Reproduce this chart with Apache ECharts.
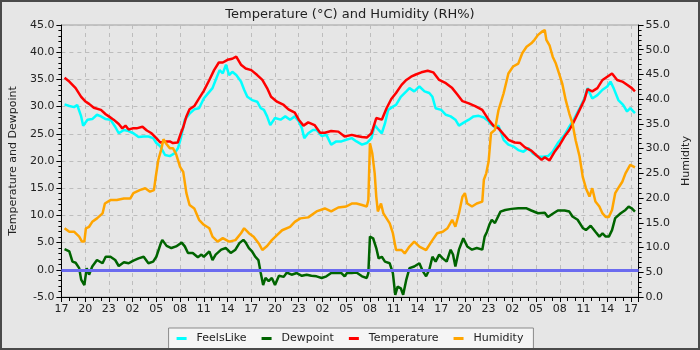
<!DOCTYPE html>
<html>
<head>
<meta charset="utf-8">
<script src="https://cdn.jsdelivr.net/npm/echarts@6/dist/echarts.min.js"></script>
<style>
  html, body { margin: 0; padding: 0; background: #e6e6e6; }
  #chart { width: 700px; height: 350px; }
</style>
</head>
<body>
<div id="chart"></div>
<script>
// Hours since 17:00 on the first day, paired with the reading.
const startHour = 17;
const hourTicks = 3;

const feelsLike = [
  [0.4,30.4],[1,30.1],[1.6,29.9],[2,30.3],[2.5,28.2],[2.75,26.5],[3.3,27.6],[3.9,27.7],[4.5,28.5],[5,28.2],
  [5.6,27.7],[6.2,27.6],[6.8,26.3],[7.25,25.1],[7.9,25.7],[8.5,25.5],[9.1,25.1],[9.75,24.4],[10.4,24.5],[11,24.5],
  [11.6,24.2],[12,23.3],[12.5,22.7],[13.1,21.1],[13.7,20.9],[14.3,21.4],[14.75,22.4],[15.1,24.2],[15.6,27.6],[16.2,28.7],
  [16.8,29.5],[17.4,29.7],[18,31.5],[18.4,32.2],[19.1,33.4],[19.5,34.9],[20,36.7],[20.4,36.1],[20.8,37.7],[21.2,35.8],
  [21.6,36.4],[22.1,35.8],[22.7,34.6],[23.1,33.1],[23.5,31.8],[24.1,31.2],[24.75,30.9],[25.2,29.7],[25.6,29.4],[26,28.2],
  [26.4,26.6],[27,27.9],[27.7,27.6],[28.3,28.2],[28.9,27.6],[29.5,28.2],[30,27.3],[30.4,26.0],[30.7,24.2],[31.2,25.1],
  [31.8,25.7],[32.25,25.7],[32.9,24.6],[33.5,24.8],[34.1,23.0],[34.75,23.6],[35.4,23.6],[36,23.9],[36.7,24.2],[37.3,23.6],
  [38,23.0],[38.6,23.3],[39.2,24.2],[39.6,26.6],[40.1,25.7],[40.5,25.1],[40.9,26.9],[41.3,29.4],[41.9,30.0],[42.3,30.3],
  [42.9,31.8],[43.6,32.8],[44,33.4],[44.6,32.8],[45.25,33.7],[45.9,32.8],[46.5,32.5],[46.9,31.8],[47.3,29.7],[48,29.4],
  [48.6,28.5],[49.2,28.2],[49.8,27.6],[50.25,26.5],[50.9,27.1],[51.5,27.6],[52.1,28.2],[52.75,28.3],[53.4,28.0],[54,27.3],
  [54.2,26.9],[54.8,26.2],[55.25,26.5],[55.9,23.9],[56.5,23.0],[57.1,22.7],[57.75,22.0],[58.4,21.7],[59,22.4],[59.6,21.4],
  [60.25,20.8],[60.9,20.8],[61.5,20.9],[62.1,21.7],[62.75,23.3],[63.6,24.8],[64.2,26.3],[64.8,27.7],[65.5,29.7],[66.1,31.5],
  [66.5,33.4],[67.1,31.5],[67.75,32.1],[68.4,33.1],[69,33.7],[69.4,34.6],[69.8,33.4],[70.4,31.2],[71,30.3],[71.5,29.1],
  [71.9,29.7],[72.5,28.8]
];

const dewpoint = [
  [0.4,3.8],[1,3.4],[1.4,1.5],[1.8,1.3],[2.25,0.3],[2.5,-1.8],[2.9,-2.8],[3.2,0.3],[3.5,-0.9],[3.9,0.6],
  [4.5,1.8],[5.2,1.2],[5.6,2.4],[6.2,2.4],[6.8,1.8],[7.25,0.7],[7.9,1.4],[8.5,1.2],[9.1,1.7],[9.75,2.1],
  [10.4,2.4],[11,1.2],[11.6,1.5],[12,2.4],[12.5,4.6],[12.75,5.5],[13.3,4.4],[13.9,4.0],[14.5,4.3],[15.2,5.0],
  [15.6,4.3],[16,3.1],[16.6,3.1],[17.25,2.3],[17.7,2.8],[18,2.4],[18.7,3.4],[19.1,1.8],[19.5,2.8],[20.2,3.7],
  [20.8,4.0],[21.4,3.1],[22,3.7],[22.5,4.9],[23,5.5],[23.3,5.0],[23.7,4.0],[24.1,3.4],[24.5,2.4],[24.9,1.8],
  [25.2,-0.6],[25.5,-2.8],[25.8,-1.5],[26.2,-2.1],[26.6,-1.5],[27,-2.8],[27.5,-1.1],[28.1,-1.3],[28.5,-0.5],[29.1,-0.9],
  [29.75,-0.6],[30.4,-1.1],[31,-0.9],[31.6,-1.1],[32.25,-1.2],[32.9,-1.5],[33.5,-1.2],[34.1,-0.6],[34.75,-0.6],[35.4,-0.6],
  [35.8,-1.2],[36.1,-0.6],[36.7,-0.6],[37.3,-0.5],[38,-1.2],[38.6,-1.5],[38.8,-0.6],[39,6.1],[39.4,5.8],[39.8,4.0],
  [40.1,2.1],[40.5,2.4],[40.9,1.5],[41.5,1.2],[41.9,-0.6],[42.2,-4.6],[42.5,-3.1],[42.9,-3.4],[43.2,-4.6],[43.6,-1.8],
  [44,0.3],[44.6,0.6],[45.25,1.2],[45.7,-0.3],[46.1,-1.2],[46.5,0.0],[46.9,2.4],[47.3,1.5],[47.75,2.8],[48.2,2.1],
  [48.7,1.5],[49.2,3.7],[49.5,2.8],[49.8,0.6],[50.25,3.7],[50.8,5.8],[51.3,4.3],[51.9,3.7],[52.5,4.0],[53.2,3.7],
  [53.5,6.1],[53.8,7.0],[54.1,8.3],[54.4,9.2],[54.8,8.6],[55.5,10.7],[56.1,11.0],[56.9,11.2],[57.75,11.3],[58.8,11.3],
  [59.4,10.9],[60.25,10.4],[61.1,10.5],[61.5,9.7],[62.1,10.3],[62.75,10.9],[63.6,10.9],[64.2,10.7],[64.6,9.8],[65.25,9.2],
  [65.9,7.7],[66.3,7.3],[66.9,8.1],[67.5,7.0],[68,6.1],[68.4,6.7],[68.8,6.1],[69.2,6.1],[69.6,7.3],[70,9.5],
  [70.7,10.4],[71.3,11.0],[71.7,11.6],[72.1,11.3],[72.5,10.7]
];

const temperature = [
  [0.4,35.3],[1,34.6],[1.8,33.4],[2.5,31.8],[3,31.0],[3.5,30.5],[4.1,29.8],[5,29.4],[5.6,28.6],[6,28.2],
  [6.6,27.6],[7.25,26.8],[7.7,26.0],[8.1,26.5],[8.5,25.8],[9,26.0],[9.5,26.0],[10.25,26.3],[10.8,25.6],[11.4,25.1],
  [12,24.2],[12.5,23.4],[13.1,23.6],[13.7,23.6],[14.1,23.3],[14.7,23.4],[15.1,25.1],[15.4,26.2],[15.8,28.2],[16.2,29.5],
  [16.8,30.1],[17.4,31.5],[18,32.9],[18.7,34.9],[19.3,36.7],[19.9,38.1],[20.4,38.1],[21,38.6],[21.6,38.8],[22.1,39.2],
  [22.7,37.7],[23.3,37.0],[24,36.7],[24.75,35.8],[25.4,34.9],[26,33.4],[26.5,31.8],[27.25,30.9],[28.1,30.3],[28.7,29.5],
  [29.5,28.9],[30,27.6],[30.6,26.5],[31.2,27.1],[32,26.6],[32.7,25.2],[33.3,25.2],[34.1,25.5],[35,25.4],[35.8,24.5],
  [36.7,24.8],[37.3,24.6],[38,24.4],[38.6,24.3],[39.2,25.1],[39.8,27.9],[40.5,27.6],[41.1,29.7],[41.7,31.4],[42.3,32.5],
  [43,34.0],[43.6,34.9],[44.2,35.5],[44.8,35.9],[45.5,36.3],[46.3,36.6],[47,36.3],[47.75,34.9],[48.6,34.3],[49.4,33.4],
  [50,32.3],[50.7,31.0],[51.5,30.6],[52.3,30.1],[53.2,29.4],[54,27.6],[54.6,26.5],[55.25,26.0],[55.9,24.9],[56.5,23.9],
  [57.3,23.4],[58,23.3],[58.6,22.5],[59.4,21.9],[60,21.1],[60.7,20.2],[61.1,20.7],[61.7,20.1],[62.3,21.6],[63,23.0],
  [63.6,24.5],[64.2,25.7],[64.8,27.3],[65.5,29.4],[66.1,31.2],[66.5,33.2],[67.1,32.8],[67.75,33.4],[68.4,34.9],[69,35.5],
  [69.6,36.1],[70.25,34.9],[70.9,34.6],[71.5,34.0],[72.1,33.4],[72.5,32.8]
];

const humidity = [
  [0.4,13.9],[1,13.2],[1.6,13.2],[2.25,12.2],[2.6,11.2],[2.9,11.2],[3.1,13.9],[3.5,14.2],[3.9,15.2],[4.5,15.9],
  [5.2,16.9],[5.5,18.9],[6.2,19.6],[7,19.6],[7.9,19.9],[8.7,19.9],[9.1,21.0],[9.9,21.6],[10.6,22.0],[11.2,21.3],
  [11.7,21.6],[11.9,24.0],[12.25,27.7],[12.6,29.7],[12.9,31.9],[13.2,31.1],[13.7,30.1],[14.1,30.1],[14.5,28.9],[15,26.3],
  [15.4,25.3],[15.8,21.0],[16.2,18.6],[16.8,17.9],[17.4,15.6],[18,14.6],[18.7,13.9],[19.1,12.2],[19.75,11.2],[20.4,11.9],
  [21.2,11.2],[22,11.5],[22.7,12.9],[23.1,13.9],[23.7,12.9],[24.3,12.2],[25,10.7],[25.4,9.5],[26,10.3],[26.6,11.5],
  [27.25,12.5],[27.9,13.5],[28.9,14.2],[29.5,15.2],[30.2,15.9],[31.2,16.1],[32.25,17.3],[33.3,17.9],[34.1,17.3],[35,18.1],
  [36,18.3],[36.7,18.9],[37.3,18.9],[38,18.6],[38.6,18.3],[38.8,19.6],[39,31.1],[39.3,29.0],[39.6,25.0],[39.8,20.3],
  [40,17.3],[40.4,18.9],[40.7,16.9],[41.1,15.9],[41.5,14.9],[41.9,12.9],[42.3,9.5],[43,9.5],[43.4,8.8],[44,10.2],
  [44.6,11.2],[45.25,10.2],[46.1,9.5],[46.9,11.5],[47.5,12.9],[48.2,13.2],[48.8,13.9],[49.4,15.6],[49.8,14.2],[50.25,16.9],
  [50.7,20.3],[51,21.0],[51.3,18.9],[51.9,18.3],[52.5,18.9],[53.2,19.3],[53.4,23.7],[53.7,25.0],[54,27.4],[54.3,33.1],
  [54.8,33.8],[55.25,37.8],[55.9,41.2],[56.5,45.2],[57.1,46.6],[57.75,47.2],[58.25,49.3],[58.8,50.6],[59.4,51.3],[59.8,52.0],
  [60.25,53.0],[60.7,53.6],[61.1,54.0],[61.3,52.0],[61.7,50.9],[62.1,48.6],[62.5,47.2],[62.9,45.2],[63.3,43.2],[63.75,39.8],
  [64.2,37.1],[64.6,35.1],[65,31.7],[65.5,28.4],[65.9,24.3],[66.3,22.0],[66.75,20.3],[67.1,22.0],[67.5,19.3],[68,18.3],
  [68.4,16.9],[68.8,16.2],[69.2,16.2],[69.6,17.6],[70,21.0],[70.5,22.3],[70.9,23.3],[71.3,25.0],[71.9,26.7],[72.5,26.2]
];

const FONT = 'DejaVu Sans';
const TEXT = '#222222';
const GRID_LINE = { show: true, lineStyle: { color: '#bdbdbd', type: [4, 4], width: 1 } };

function clockLabel(v) {
  if (Math.abs(v / hourTicks - Math.round(v / hourTicks)) > 1e-6) return '';
  const h = (startHour + Math.round(v)) % 24;
  return (h < 10 ? '0' : '') + h;
}

function lineSeries(name, data, color, yAxisIndex, extra) {
  return Object.assign({
    name: name,
    type: 'line',
    data: data,
    yAxisIndex: yAxisIndex,
    showSymbol: false,
    symbol: 'none',
    animation: false,
    lineStyle: { color: color, width: 2.5 },
    itemStyle: { color: color }
  }, extra || {});
}

const chart = echarts.init(document.getElementById('chart'), null, { renderer: 'canvas' });
chart.setOption({
  backgroundColor: '#e6e6e6',
  animation: false,
  textStyle: { fontFamily: FONT },
  title: {
    text: 'Temperature (°C) and Humidity (RH%)',
    left: 'center',
    top: 3,
    textStyle: { fontFamily: FONT, fontSize: 13, fontWeight: 'normal', color: TEXT }
  },
  graphic: [{
    type: 'rect',
    shape: { x: 1, y: 1, width: 698, height: 348 },
    style: { fill: 'none', stroke: '#4a4a4a', lineWidth: 2 },
    silent: true,
    z: 100
  }],
  grid: {
    left: 55, right: 60, top: 25, bottom: 53,
    show: true, borderColor: '#a0a0a0', borderWidth: 1, backgroundColor: 'transparent'
  },
  legend: {
    bottom: 1,
    left: 'center',
    data: ['FeelsLike', 'Dewpoint', 'Temperature', 'Humidity'],
    icon: 'rect',
    itemWidth: 10,
    itemHeight: 3,
    itemGap: 15,
    padding: [5, 10, 5, 8],
    backgroundColor: '#f5f5f5',
    borderColor: '#8a8a8a',
    borderWidth: 1,
    borderRadius: 0,
    textStyle: { fontFamily: FONT, fontSize: 11, color: TEXT, padding: [0, 0, 0, 5] }
  },
  xAxis: {
    type: 'value',
    min: 0,
    max: 72.96,
    interval: hourTicks,
    axisLine: { show: true, onZero: false, lineStyle: { color: '#000', width: 1 } },
    axisTick: { show: true, length: 5, lineStyle: { color: '#000' } },
    minorTick: { show: true, splitNumber: 3, length: 4, lineStyle: { color: '#000' } },
    axisLabel: { formatter: clockLabel, fontFamily: FONT, fontSize: 11, color: TEXT, margin: 7, showMaxLabel: false },
    splitLine: GRID_LINE
  },
  yAxis: [{
    type: 'value',
    min: -5,
    max: 45,
    interval: 5,
    name: 'Temperature and Dewpoint',
    nameLocation: 'middle',
    nameRotate: 90,
    nameGap: 34,
    nameTextStyle: { fontFamily: FONT, fontSize: 11, color: TEXT },
    axisLine: { show: true, lineStyle: { color: '#000', width: 1 } },
    axisTick: { show: true, length: 5, lineStyle: { color: '#000' } },
    minorTick: { show: true, splitNumber: 5, length: 3, lineStyle: { color: '#000' } },
    axisLabel: { formatter: v => v.toFixed(1), fontFamily: FONT, fontSize: 11, color: TEXT, margin: 7 },
    splitLine: GRID_LINE
  }, {
    type: 'value',
    min: 0,
    max: 55,
    interval: 5,
    position: 'right',
    name: 'Humidity',
    nameLocation: 'middle',
    nameRotate: 90,
    nameGap: 37,
    nameTextStyle: { fontFamily: FONT, fontSize: 11, color: TEXT },
    axisLine: { show: true, lineStyle: { color: '#000', width: 1 } },
    axisTick: { show: true, length: 5, lineStyle: { color: '#000' } },
    minorTick: { show: true, splitNumber: 5, length: 3, lineStyle: { color: '#000' } },
    axisLabel: { formatter: v => v.toFixed(1), fontFamily: FONT, fontSize: 11, color: TEXT, margin: 7 },
    splitLine: { show: false }
  }],
  series: [
    lineSeries('FeelsLike', feelsLike, '#00ffff', 0),
    lineSeries('Dewpoint', dewpoint, '#006400', 0, {
      markLine: {
        silent: true,
        symbol: 'none',
        label: { show: false },
        lineStyle: { color: '#6b6bef', width: 3, type: 'solid' },
        data: [{ yAxis: 0 }]
      }
    }),
    lineSeries('Temperature', temperature, '#ff0000', 0),
    lineSeries('Humidity', humidity, '#ffa500', 1)
  ]
});
</script>
</body>
</html>
